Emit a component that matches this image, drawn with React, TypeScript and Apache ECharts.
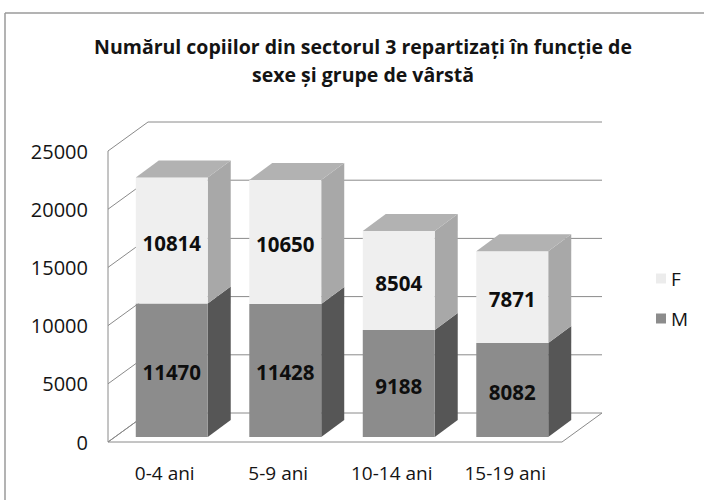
import React, { useEffect, useRef } from "react";
import * as echarts from "echarts";

const categories = ["0-4 ani", "5-9 ani", "10-14 ani", "15-19 ani"];
const mValues = [11470, 11428, 9188, 8082];
const fValues = [10814, 10650, 8504, 7871];
const yTicks = [0, 5000, 10000, 15000, 20000, 25000];
const titleText = "Numărul copiilor din sectorul 3 repartizați în funcție de\nsexe și grupe de vârstă";

const FONT = "'Open Sans', 'Noto Sans', sans-serif";
const WALL_DX = 40;
const WALL_DY = -29;
const BAR_DX = 23;
const BAR_DY = -17;
const BAR_SHIFT_X = 7;
const BAR_SHIFT_Y = -5;
const LINE = "#8a8a8a";

function makeBarRenderer(front: string, side: string, topColor: string, isTop: boolean) {
  return (params: any, api: any) => {
    const i = api.value(0);
    const lo = api.value(1);
    const hi = api.value(2);
    const label = api.value(3);
    const base = api.coord([i, lo]);
    const top = api.coord([i, hi]);
    const bw = api.size([1, 0])[0] * 0.634;
    const cx = base[0] + BAR_SHIFT_X;
    const x0 = cx - bw / 2;
    const x1 = cx + bw / 2;
    const yb = base[1] + BAR_SHIFT_Y;
    const yt = top[1] + BAR_SHIFT_Y;
    const children: any[] = [
      {
        type: "polygon",
        shape: { points: [[x1, yb], [x1 + BAR_DX, yb + BAR_DY], [x1 + BAR_DX, yt + BAR_DY], [x1, yt]] },
        style: { fill: side },
      },
      {
        type: "rect",
        shape: { x: x0, y: yt, width: bw, height: yb - yt },
        style: { fill: front },
      },
    ];
    if (isTop) {
      children.push({
        type: "polygon",
        shape: { points: [[x0, yt], [x1, yt], [x1 + BAR_DX, yt + BAR_DY], [x0 + BAR_DX, yt + BAR_DY]] },
        style: { fill: topColor },
      });
    }
    children.push({
      type: "text",
      style: {
        text: String(label),
        x: cx,
        y: (yt + yb) / 2 + 2,
        align: "center",
        verticalAlign: "middle",
        font: `bold 20.5px ${FONT}`,
        fill: "#0e0e0e",
      },
    });
    return { type: "group", children };
  };
}

export default function App() {
  const ref = useRef<HTMLDivElement>(null);
  useEffect(() => {
    if (!ref.current) return;
    const chart = echarts.init(ref.current, null, { renderer: "svg" });
    const mData = categories.map((_, i) => [i, 0, mValues[i], mValues[i]]);
    const fData = categories.map((_, i) => [i, mValues[i], mValues[i] + fValues[i], fValues[i]]);
    const wallData = yTicks.map((v) => [0, v]);
    const topTick = yTicks[yTicks.length - 1];

    chart.setOption({
      animation: false,
      backgroundColor: "#ffffff",
      grid: { left: 108, right: 142, top: 151, bottom: 58 },
      xAxis: {
        type: "category",
        data: categories,
        axisLine: { show: false },
        axisTick: { show: false },
        axisLabel: { fontSize: 19, fontFamily: FONT, color: "#141414", margin: 21 },
      },
      yAxis: {
        type: "value",
        min: 0,
        max: 25000,
        interval: 5000,
        axisLine: { show: false },
        axisTick: { show: false },
        splitLine: { show: false },
        axisLabel: {
          fontSize: 20,
          fontFamily: FONT,
          color: "#141414",
          margin: 20,
          formatter: (v: number) => String(v),
        },
      },
      legend: {
        data: ["F", "M"],
        orient: "vertical",
        left: 651,
        top: 264,
        itemWidth: 10,
        itemHeight: 10,
        itemGap: 21,
        icon: "rect",
        textStyle: { fontSize: 19, fontFamily: FONT, color: "#141414" },
      },
      graphic: [
        { type: "line", shape: { x1: 5, y1: 13, x2: 704, y2: 13 }, style: { stroke: "#9a9a9a", lineWidth: 1.5 } },
        { type: "line", shape: { x1: 5, y1: 13, x2: 5, y2: 500 }, style: { stroke: "#9a9a9a", lineWidth: 1.5 } },
        {
          type: "text",
          style: {
            text: titleText,
            x: 363,
            y: 32,
            align: "center",
            verticalAlign: "top",
            font: `bold 19.5px ${FONT}`,
            lineHeight: 28,
            fill: "#141414",
          },
        },
      ],
      series: [
        {
          type: "custom",
          name: "walls",
          z: 1,
          silent: true,
          encode: { x: 0, y: 1 },
          data: wallData,
          renderItem: (params: any, api: any) => {
            const cs = params.coordSys;
            const v = api.value(1);
            const y = api.coord([0, v])[1];
            const left = cs.x;
            const right = cs.x + cs.width;
            const children: any[] = [];
            if (v === 0) {
              const yTop = api.coord([0, topTick])[1];
              children.push({
                type: "polygon",
                shape: { points: [[left, y], [right, y], [right + WALL_DX, y + WALL_DY], [left + WALL_DX, y + WALL_DY]] },
                style: { fill: "#ffffff", stroke: LINE, lineWidth: 1 },
              });
              children.push({
                type: "line",
                shape: { x1: left, y1: y, x2: left, y2: yTop },
                style: { stroke: LINE, lineWidth: 1 },
              });
            } else {
              children.push({
                type: "line",
                shape: { x1: left + WALL_DX, y1: y + WALL_DY, x2: right + WALL_DX, y2: y + WALL_DY },
                style: { stroke: LINE, lineWidth: 1 },
              });
            }
            children.push({
              type: "line",
              shape: { x1: left, y1: y, x2: left + WALL_DX, y2: y + WALL_DY },
              style: { stroke: LINE, lineWidth: 1 },
            });
            return { type: "group", children };
          },
        },
        {
          type: "custom",
          name: "M",
          z: 2,
          itemStyle: { color: "#8c8c8c" },
          encode: { x: 0, y: [1, 2] },
          data: mData,
          renderItem: makeBarRenderer("#8c8c8c", "#565656", "#9a9a9a", false),
        },
        {
          type: "custom",
          name: "F",
          z: 3,
          itemStyle: { color: "#ececec" },
          encode: { x: 0, y: [1, 2] },
          data: fData,
          renderItem: makeBarRenderer("#efefef", "#a8a8a8", "#b2b2b2", true),
        },
      ],
    });
    return () => chart.dispose();
  }, []);
  return (
    <div
      ref={ref}
      style={{ position: "fixed", left: 0, top: 0, width: 704, height: 500, background: "#fff" }}
    />
  );
}
